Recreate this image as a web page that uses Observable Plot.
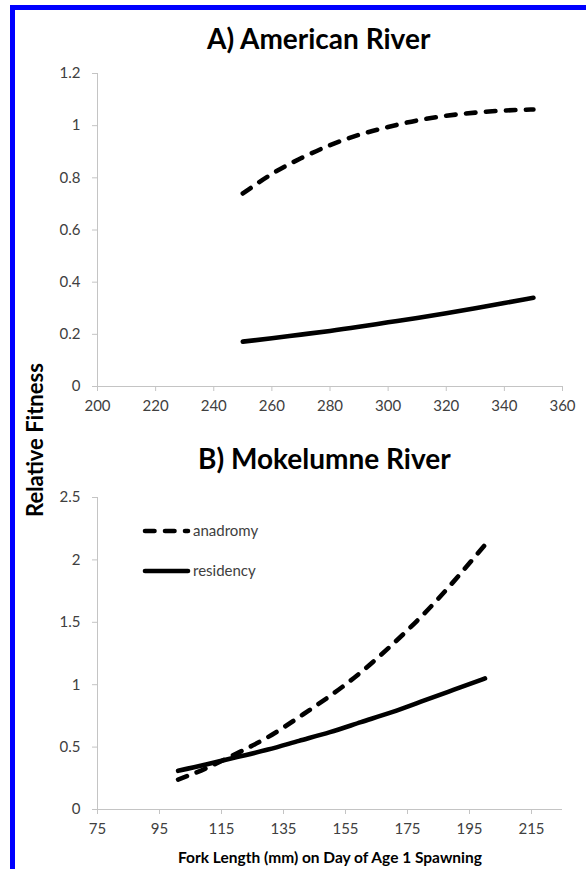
<!DOCTYPE html>
<html>
<head>
<meta charset="utf-8">
<script src="https://cdn.jsdelivr.net/npm/d3@7"></script>
<script src="https://cdn.jsdelivr.net/npm/@observablehq/plot@0.6"></script>
<style>
  html, body { margin: 0; padding: 0; background: #fff; }
  #chart { position: relative; width: 586px; height: 869px; overflow: hidden; background: #fff; font-family: Lato, "Open Sans", sans-serif; }
  .bar { position: absolute; background: #0000ff; }
  .title { position: absolute; font-weight: bold; font-size: 28px; color: #000; white-space: nowrap; line-height: 1; }
  .ytitle { position: absolute; font-weight: bold; font-size: 22px; color: #000; white-space: nowrap; transform-origin: 0 0; line-height: 1; }
  .xtitle { position: absolute; font-weight: bold; font-size: 15.5px; color: #000; white-space: nowrap; line-height: 1; }
  .panel { position: absolute; left: 0; }
</style>
</head>
<body>
<div id="chart">
  <div class="bar" style="left:10px;top:5px;width:576px;height:5px"></div>
  <div class="bar" style="left:10px;top:5px;width:5px;height:864px"></div>
  <div id="pa" class="panel" style="top:0"></div>
  <div id="pb" class="panel" style="top:430px"></div>
  <div class="title" id="ta">A) American River</div>
  <div class="title" id="tb">B) Mokelumne River</div>
  <div class="ytitle" id="yt">Relative Fitness</div>
  <div class="xtitle" id="xt">Fork Length (mm) on Day of Age 1 Spawning</div>
  <svg id="legend" style="position:absolute;left:0;top:0" width="586" height="869"></svg>
</div>
<script>
// ---- Data ----
const panelATitle = "A) American River";
const panelBTitle = "B) Mokelumne River";
const seriesNames = ["anadromy", "residency"];

const aForkLength = [250, 260, 270, 280, 290, 300, 310, 320, 330, 340, 350];
const aAnadromy   = [0.74, 0.815, 0.875, 0.925, 0.965, 0.995, 1.02, 1.038, 1.05, 1.058, 1.062];
const aResidency  = [0.172, 0.185, 0.199, 0.213, 0.229, 0.246, 0.263, 0.281, 0.300, 0.320, 0.340];

const bForkLength = [101, 110, 120, 130, 140, 150, 160, 170, 180, 190, 200];
const bAnadromy   = [0.24, 0.33, 0.45, 0.58, 0.74, 0.91, 1.10, 1.32, 1.56, 1.83, 2.12];
const bResidency  = [0.31, 0.36, 0.42, 0.48, 0.55, 0.62, 0.70, 0.78, 0.87, 0.96, 1.05];

const aXTicks = [200, 220, 240, 260, 280, 300, 320, 340, 360];
const aYTicks = [0, 0.2, 0.4, 0.6, 0.8, 1, 1.2];
const bXTicks = [75, 95, 115, 135, 155, 175, 195, 215];
const bYTicks = [0, 0.5, 1, 1.5, 2, 2.5];

// ---- Styles ----
const axisGray = "#c4c4c4";
const labelGray = "#404040";
const lineW = 4.6;
const dash = "9.5,10.5";

function toRows(xs, ys) { return xs.map((x, i) => ({x, y: ys[i]})); }

function panel({xs, ana, res, xDomain, yDomain, xTicks, yTicks, height, marginTop, marginBottom}) {
  return Plot.plot({
    width: 586,
    height,
    marginLeft: 97,
    marginRight: 24,
    marginTop,
    marginBottom,
    style: {fontFamily: "Lato, 'Open Sans', sans-serif", fontSize: "15px", background: "transparent", color: labelGray},
    x: {domain: xDomain, label: null},
    y: {domain: yDomain, label: null},
    marks: [
      Plot.ruleX([xDomain[0]], {stroke: axisGray, strokeWidth: 1}),
      Plot.ruleY([0], {stroke: axisGray, strokeWidth: 1}),
      Plot.axisX(xTicks, {tickSize: 5, tickPadding: 9, stroke: axisGray, fill: labelGray, tickFormat: d => String(d), label: null}),
      Plot.axisY(yTicks, {tickSize: 5, tickPadding: 12, stroke: axisGray, fill: labelGray, tickFormat: d => String(d), label: null}),
      Plot.line(toRows(xs, res), {x: "x", y: "y", stroke: "#000", strokeWidth: lineW, strokeLinecap: "round", curve: "natural"}),
      Plot.line(toRows(xs, ana), {x: "x", y: "y", stroke: "#000", strokeWidth: lineW, strokeLinecap: "round", strokeDasharray: dash, curve: "natural"})
    ]
  });
}

document.getElementById("pa").append(panel({
  xs: aForkLength, ana: aAnadromy, res: aResidency,
  xDomain: [200, 360], yDomain: [0, 1.2], xTicks: aXTicks, yTicks: aYTicks,
  height: 430, marginTop: 73, marginBottom: 44
}));
document.getElementById("pb").append(panel({
  xs: bForkLength, ana: bAnadromy, res: bResidency,
  xDomain: [75, 225], yDomain: [0, 2.5], xTicks: bXTicks, yTicks: bYTicks,
  height: 439, marginTop: 67, marginBottom: 60
}));

// ---- Titles ----
const ta = document.getElementById("ta");
ta.textContent = panelATitle;
ta.style.left = "207px"; ta.style.top = "24px";
const tb = document.getElementById("tb");
tb.textContent = panelBTitle;
tb.style.left = "198px"; tb.style.top = "444px";

const yt = document.getElementById("yt");
const ytW = yt.getBoundingClientRect().width;
yt.style.left = "24px";
yt.style.top = (440 + ytW / 2) + "px";
yt.style.transform = "rotate(-90deg)";

const xt = document.getElementById("xt");
const xtW = xt.getBoundingClientRect().width;
xt.style.left = (330 - xtW / 2) + "px";
xt.style.top = "850px";

// ---- Legend ----
const lg = d3.select("#legend");
const legendRows = [{name: seriesNames[0], y: 531, dash: dash}, {name: seriesNames[1], y: 571, dash: null}];
for (const r of legendRows) {
  lg.append("line").attr("x1", 145).attr("x2", 188).attr("y1", r.y).attr("y2", r.y)
    .attr("stroke", "#000").attr("stroke-width", lineW).attr("stroke-linecap", "round")
    .attr("stroke-dasharray", r.dash);
  lg.append("text").attr("x", 193).attr("y", r.y).attr("dy", "0.35em")
    .attr("fill", labelGray).attr("font-size", 15).attr("font-family", "Lato, 'Open Sans', sans-serif")
    .text(r.name);
}
</script>
</body>
</html>
